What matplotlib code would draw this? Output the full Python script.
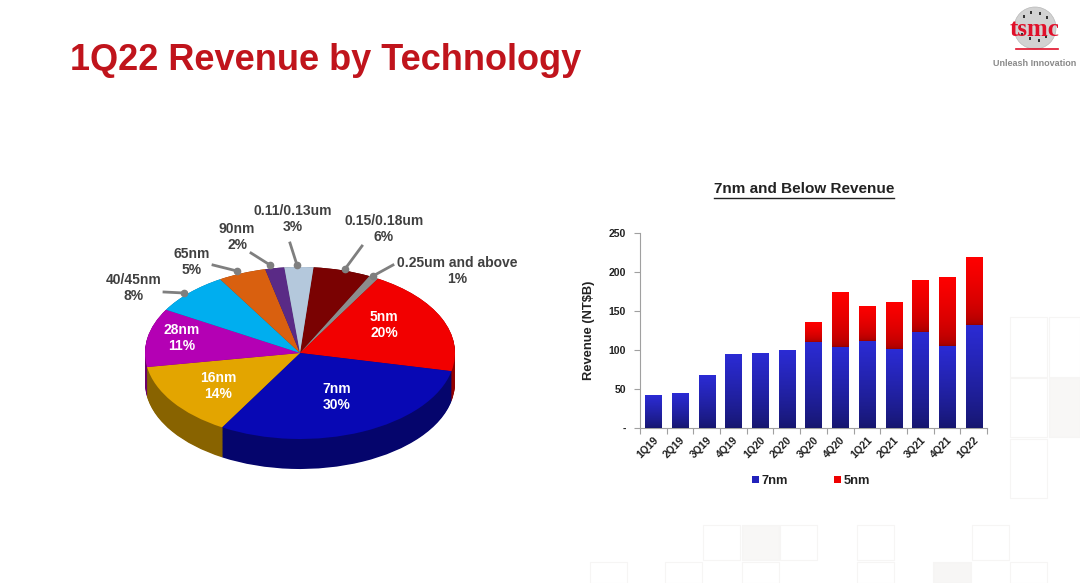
import numpy as np
import matplotlib
matplotlib.use('Agg')
import matplotlib.pyplot as plt
from matplotlib.patches import Rectangle, Patch, Ellipse
from matplotlib.lines import Line2D
from matplotlib.colors import to_rgb

plt.rcParams['font.family'] = ['Liberation Sans', 'DejaVu Sans']
plt.rcParams['font.weight'] = 'bold'

# ---------------- data ----------------
tech_labels = ['0.15/0.18um', '0.25um and above', '5nm', '7nm', '16nm',
               '28nm', '40/45nm', '65nm', '90nm', '0.11/0.13um']
tech_share = [6, 1, 20, 30, 14, 11, 8, 5, 2, 3]
tech_colors = ['#7A0202', '#8C8C8C', '#F20000', '#0808B4', '#E3A500',
               '#B400B4', '#00AEEF', '#D9600F', '#5A2A86', '#B4C8DC']

quarters = ['1Q19', '2Q19', '3Q19', '4Q19', '1Q20', '2Q20', '3Q20',
            '4Q20', '1Q21', '2Q21', '3Q21', '4Q21', '1Q22']
rev_7nm = [42, 44, 68, 95, 96, 100, 110, 104, 111, 101, 123, 105, 132]
rev_5nm = [0, 0, 0, 0, 0, 0, 25.5, 70, 45.5, 61, 67, 89, 87]
y_ticks = [0, 50, 100, 150, 200, 250]
y_tick_labels = ['-', '50', '100', '150', '200', '250']

# ---------------- helpers ----------------
W, H = 1080, 583
fig = plt.figure(figsize=(10.8, 5.83), dpi=100)
fig.patch.set_facecolor('white')


def fx(px):
    return px / W


def fy(py):
    return 1 - py / H


def darken(c, f):
    r, g, b = to_rgb(c)
    return (r * f, g * f, b * f)


# very faint decorative background squares
for (x0, y0, w, h, fc) in [
        (1010, 317, 37, 60, 'white'), (1049, 317, 31, 60, 'white'),
        (1010, 378, 37, 59, 'white'), (1049, 378, 31, 59, '#F8F7F6'),
        (1010, 439, 37, 59, 'white'),
        (703, 525, 37, 35, 'white'), (742, 525, 37, 35, '#F8F7F6'),
        (780, 525, 37, 35, 'white'), (857, 525, 37, 35, 'white'),
        (972, 525, 37, 35, 'white'),
        (590, 562, 37, 21, 'white'), (665, 562, 37, 21, 'white'),
        (742, 562, 37, 21, 'white'), (857, 562, 37, 21, 'white'),
        (933, 562, 38, 21, '#F7F6F5'), (1010, 562, 37, 21, 'white')]:
    fig.patches.append(Rectangle((fx(x0), fy(y0 + h)), w / W, h / H,
                                 transform=fig.transFigure, facecolor=fc,
                                 edgecolor='#F6F5F4', linewidth=0.8, zorder=0))

# ---------------- title ----------------
fig.text(fx(70), fy(60), '1Q22 Revenue by Technology', fontsize=26,
         fontweight='bold', color='#C0141C', ha='left', va='center')

# ---------------- logo ----------------
fig.patches.append(Ellipse((fx(1035), fy(28)), 42 / W, 42 / H, transform=fig.transFigure,
                           facecolor='#D2D2D2', edgecolor='#B8B8B8', lw=0.5, zorder=1))
for (dx, dy) in [(-12, -10), (-5, -14), (4, -13), (11, -9), (-14, 8), (-6, 12),
                 (3, 14), (10, 10), (15, 2), (-16, 0)]:
    fig.patches.append(Rectangle((fx(1035 + dx), fy(28 + dy)), 2 / W, 3 / H,
                                 transform=fig.transFigure, facecolor='#333333',
                                 lw=0, zorder=1.5))
fig.text(fx(1035), fy(30), 'tsmc', fontsize=18, fontweight='bold', color='#E0102A',
         family=['Liberation Serif', 'DejaVu Serif'], ha='center', va='center', zorder=2)
fig.lines.append(Line2D([fx(1016), fx(1058)], [fy(49), fy(49)], transform=fig.transFigure,
                        color='#E0102A', lw=1.2))
fig.text(fx(1035), fy(64), 'Unleash Innovation', fontsize=6.5, color='#8A8A8A',
         fontweight='bold', ha='center', va='center')

# ---------------- 3D pie ----------------
axp = fig.add_axes([fx(100), fy(500), 400 / W, 300 / H])
depth = 30 / 86
side_colors = [darken(c, 0.6) for c in tech_colors]
for d in np.linspace(depth, 0.0, 40):
    axp.pie(tech_share, colors=side_colors, startangle=85, counterclock=False,
            center=(0, -d), wedgeprops=dict(linewidth=0))
axp.pie(tech_share, colors=tech_colors, startangle=85, counterclock=False,
        center=(0, 0), wedgeprops=dict(linewidth=0))
axp.set_aspect('auto')
axp.set_xlim(-200 / 155, 200 / 155)
axp.set_ylim(-147 / 86, 153 / 86)
axp.axis('off')

label_pos = {
    '0.15/0.18um': (384, 229, 'out'), '0.25um and above': (457, 271, 'out'),
    '5nm': (384, 325, 'in'), '7nm': (337, 397, 'in'), '16nm': (218, 386, 'in'),
    '28nm': (182, 338, 'in'), '40/45nm': (134, 288, 'out'), '65nm': (192, 262, 'out'),
    '90nm': (237, 237, 'out'), '0.11/0.13um': (293, 219, 'out')}
leaders = {
    '40/45nm': ((164, 292), (184, 293)), '65nm': ((213, 265), (237, 271)),
    '90nm': ((251, 253), (270, 265)), '0.11/0.13um': ((290, 243), (297, 265)),
    '0.15/0.18um': ((362, 246), (345, 269)), '0.25um and above': ((393, 265), (373, 276))}

for lab, share in zip(tech_labels, tech_share):
    px, py, kind = label_pos[lab]
    col = 'white' if kind == 'in' else '#404040'
    fig.text(fx(px), fy(py), f'{lab}\n{share}%', fontsize=10, fontweight='bold',
             color=col, ha='center', va='center', linespacing=1.15, zorder=5)
    if lab in leaders:
        (x1, y1), (x2, y2) = leaders[lab]
        fig.lines.append(Line2D([fx(x1), fx(x2)], [fy(y1), fy(y2)],
                                transform=fig.transFigure, color='#7F7F7F', lw=2,
                                zorder=6))
        fig.lines.append(Line2D([fx(x2)], [fy(y2)], transform=fig.transFigure,
                                marker='o', ms=4.5, color='#7F7F7F', zorder=6))

# ---------------- bar chart ----------------
axb = fig.add_axes([fx(640), fy(427.7), (987 - 640) / W, (427.7 - 233.3) / H])
x = np.arange(len(quarters))
b7 = axb.bar(x, rev_7nm, width=0.6, color='#2222BB', linewidth=0, zorder=2)
b5 = axb.bar(x, rev_5nm, bottom=rev_7nm, width=0.6, color='#EE0000', linewidth=0,
             zorder=2)


def grad(ax, bar, ctop, cbot, power=1.0):
    x0, y0 = bar.get_x(), bar.get_y()
    w, h = bar.get_width(), bar.get_height()
    if h <= 0:
        return
    t = np.linspace(0, 1, 64) ** power
    ct, cb = np.array(to_rgb(ctop)), np.array(to_rgb(cbot))
    img = cb[None, :] * (1 - t[:, None]) + ct[None, :] * t[:, None]
    im = ax.imshow(img[:, None, :], extent=[x0, x0 + w, y0, y0 + h], origin='lower',
                   aspect='auto', zorder=3, interpolation='bilinear')
    im.set_clip_path(bar)


for bar in b7:
    grad(axb, bar, '#2B2BD4', '#16166E', 0.8)
for bar in b5:
    grad(axb, bar, '#FF0000', '#980000', 0.45)

axb.set_xlim(-0.5, len(quarters) - 0.5)
axb.set_ylim(0, 250)
axb.set_yticks(y_ticks)
axb.set_yticklabels(y_tick_labels)
axb.set_xticks(x)
axb.set_xticklabels(quarters, rotation=45, ha='right', va='top', rotation_mode='anchor')
axb.set_xticks(np.arange(-0.5, len(quarters), 1.0), minor=True)
axb.tick_params(axis='x', which='major', length=0, pad=5, labelsize=7.6,
                labelcolor='#222222')
axb.tick_params(axis='x', which='minor', length=4, color='#A0A0A0', width=0.8)
axb.tick_params(axis='y', length=4, color='#A0A0A0', width=0.8, labelsize=7.6,
                labelcolor='#222222', pad=6)
for s in ['top', 'right']:
    axb.spines[s].set_visible(False)
for s in ['left', 'bottom']:
    axb.spines[s].set_color('#A0A0A0')
    axb.spines[s].set_linewidth(0.8)
axb.set_facecolor('none')
axb.set_ylabel('Revenue (NT$B)', fontsize=9.3, fontweight='bold', color='#222222',
               labelpad=10)

fig.text(fx(804), fy(189), '7nm and Below Revenue', fontsize=11, fontweight='bold',
         color='#222222', ha='center', va='center')
fig.lines.append(Line2D([fx(714), fx(894)], [fy(198), fy(198)], transform=fig.transFigure,
                        color='#222222', lw=1))

axb.legend(handles=[Patch(facecolor='#2222BB', label='7nm'),
                    Patch(facecolor='#EE0000', label='5nm')],
           loc='center', bbox_to_anchor=(fx(811), fy(481)), bbox_transform=fig.transFigure,
           ncol=2, frameon=False, handlelength=0.55, handleheight=0.55,
           handletextpad=0.2, columnspacing=3.6,
           prop={'size': 9.3, 'weight': 'bold'}, labelcolor='#222222')

fig.savefig('out.png', dpi=100)
